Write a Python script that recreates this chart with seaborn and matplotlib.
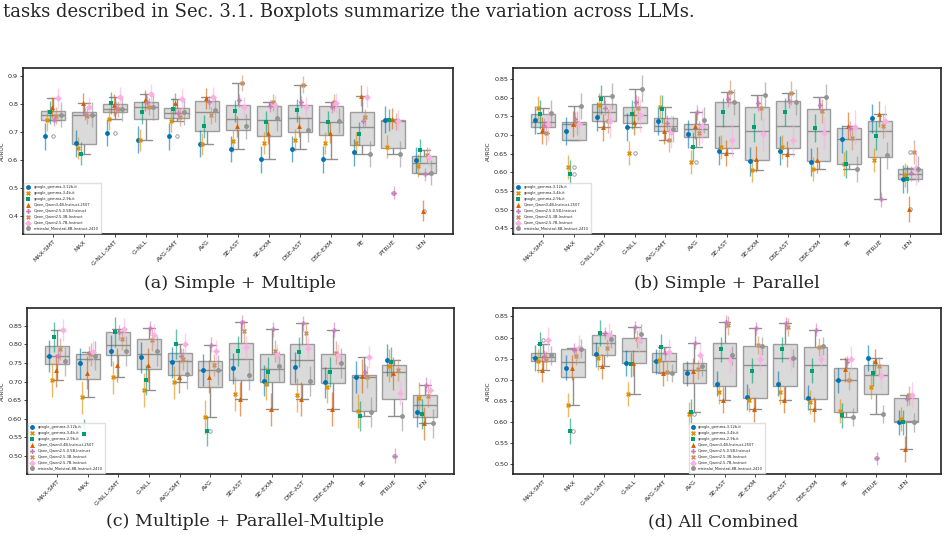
import numpy as np
import pandas as pd
import matplotlib
matplotlib.use("Agg")
import matplotlib.pyplot as plt
from matplotlib.colors import to_rgba
import seaborn as sns

# ─────────────────────────────
# Data (mean AUROC, rows = methods, columns = models)
# ─────────────────────────────
METHODS = ["MAX-SMT", "MAX", "G-NLL-SMT", "G-NLL", "AVG-SMT", "AVG", "SE-AST",
           "SE-EXM", "DSE-AST", "DSE-EXM", "PE", "PTRUE", "LEN"]
MODELS = ["google_gemma-3-12b-it", "google_gemma-3-4b-it", "google_gemma-2-9b-it",
          "Qwen_Qwen3-4B-Instruct-2507", "Qwen_Qwen2.5-0.5B-Instruct",
          "Qwen_Qwen2.5-3B-Instruct", "Qwen_Qwen2.5-7B-Instruct",
          "mistralai_Ministral-8B-Instruct-2410"]
MARKERS = ["o", "X", "s", "^", "P", "X", "D", "o"]

SIMPLE_MULTIPLE = [
    [0.686, 0.745, 0.771, 0.789, 0.743, 0.759, 0.821, 0.763],
    [0.661, 0.643, 0.624, 0.803, 0.766, 0.759, 0.790, 0.763],
    [0.699, 0.747, 0.804, 0.798, 0.786, 0.783, 0.826, 0.784],
    [0.673, 0.673, 0.771, 0.814, 0.807, 0.792, 0.837, 0.789],
    [0.686, 0.741, 0.782, 0.804, 0.769, 0.754, 0.819, 0.771],
    [0.659, 0.658, 0.721, 0.822, 0.807, 0.761, 0.826, 0.781],
    [0.640, 0.669, 0.777, 0.721, 0.814, 0.876, 0.792, 0.721],
    [0.604, 0.661, 0.735, 0.697, 0.795, 0.807, 0.798, 0.751],
    [0.640, 0.673, 0.778, 0.721, 0.808, 0.870, 0.792, 0.709],
    [0.604, 0.661, 0.735, 0.699, 0.790, 0.807, 0.804, 0.741],
    [0.629, 0.661, 0.695, 0.831, 0.741, 0.753, 0.828, 0.622],
    [0.745, 0.649, 0.745, 0.749, 0.484, 0.739, 0.742, 0.622],
    [0.601, 0.581, 0.635, 0.419, 0.549, 0.619, 0.613, 0.556],
]
SIMPLE_MULTIPLE_ERR = [0.048, 0.040, 0.040, 0.038, 0.022, 0.030, 0.036, 0.045]

SIMPLE_PARALLEL = [
    [0.740, 0.773, 0.755, 0.712, 0.726, 0.706, 0.728, 0.758],
    [0.711, 0.613, 0.595, 0.729, 0.742, 0.733, 0.729, 0.777],
    [0.749, 0.779, 0.795, 0.720, 0.773, 0.738, 0.738, 0.803],
    [0.721, 0.651, 0.755, 0.734, 0.787, 0.771, 0.752, 0.824],
    [0.738, 0.776, 0.769, 0.711, 0.733, 0.687, 0.709, 0.716],
    [0.702, 0.627, 0.669, 0.724, 0.760, 0.706, 0.724, 0.740],
    [0.658, 0.667, 0.760, 0.651, 0.796, 0.816, 0.687, 0.787],
    [0.629, 0.606, 0.720, 0.636, 0.785, 0.773, 0.703, 0.806],
    [0.658, 0.667, 0.761, 0.648, 0.792, 0.813, 0.687, 0.789],
    [0.627, 0.609, 0.718, 0.633, 0.780, 0.765, 0.704, 0.801],
    [0.689, 0.622, 0.622, 0.725, 0.718, 0.691, 0.722, 0.609],
    [0.744, 0.633, 0.698, 0.755, 0.528, 0.725, 0.736, 0.645],
    [0.582, 0.593, 0.582, 0.502, 0.597, 0.654, 0.611, 0.609],
]
SIMPLE_PARALLEL_ERR = [0.038, 0.032, 0.038, 0.035, 0.020, 0.032, 0.045, 0.035]

MULTIPLE_PARALLEL = [
    [0.769, 0.704, 0.819, 0.730, 0.770, 0.788, 0.839, 0.754],
    [0.749, 0.657, 0.560, 0.724, 0.776, 0.773, 0.779, 0.770],
    [0.783, 0.711, 0.833, 0.745, 0.833, 0.814, 0.842, 0.782],
    [0.765, 0.677, 0.704, 0.745, 0.844, 0.812, 0.826, 0.782],
    [0.752, 0.698, 0.801, 0.713, 0.770, 0.760, 0.801, 0.720],
    [0.731, 0.604, 0.567, 0.713, 0.799, 0.745, 0.781, 0.731],
    [0.736, 0.666, 0.783, 0.653, 0.860, 0.835, 0.792, 0.718],
    [0.702, 0.694, 0.727, 0.625, 0.841, 0.783, 0.772, 0.742],
    [0.738, 0.664, 0.779, 0.653, 0.857, 0.830, 0.790, 0.702],
    [0.698, 0.686, 0.725, 0.626, 0.839, 0.778, 0.772, 0.749],
    [0.712, 0.621, 0.607, 0.715, 0.727, 0.713, 0.767, 0.617],
    [0.758, 0.743, 0.752, 0.722, 0.500, 0.731, 0.668, 0.608],
    [0.619, 0.655, 0.612, 0.587, 0.691, 0.661, 0.677, 0.587],
]
MULTIPLE_PARALLEL_ERR = [0.042, 0.045, 0.040, 0.045, 0.020, 0.030, 0.030, 0.040]

ALL_COMBINED = [
    [0.752, 0.744, 0.784, 0.724, 0.756, 0.746, 0.795, 0.758],
    [0.729, 0.640, 0.579, 0.729, 0.771, 0.756, 0.775, 0.774],
    [0.760, 0.752, 0.811, 0.732, 0.811, 0.775, 0.805, 0.797],
    [0.740, 0.666, 0.737, 0.740, 0.825, 0.797, 0.795, 0.809],
    [0.744, 0.746, 0.778, 0.715, 0.763, 0.719, 0.767, 0.716],
    [0.715, 0.620, 0.624, 0.722, 0.788, 0.725, 0.759, 0.732],
    [0.691, 0.670, 0.772, 0.652, 0.838, 0.829, 0.746, 0.758],
    [0.659, 0.652, 0.722, 0.630, 0.822, 0.782, 0.750, 0.780],
    [0.691, 0.670, 0.772, 0.652, 0.834, 0.825, 0.750, 0.752],
    [0.658, 0.648, 0.722, 0.630, 0.819, 0.778, 0.750, 0.780],
    [0.699, 0.626, 0.616, 0.725, 0.741, 0.699, 0.750, 0.612],
    [0.752, 0.683, 0.716, 0.744, 0.514, 0.733, 0.708, 0.619],
    [0.599, 0.607, 0.599, 0.536, 0.654, 0.663, 0.665, 0.599],
]
ALL_COMBINED_ERR = [0.030, 0.028, 0.030, 0.030, 0.015, 0.022, 0.030, 0.022]

TOP_TEXT = "tasks described in Sec. 3.1. Boxplots summarize the variation across LLMs."
CAPTIONS = ["(a) Simple + Multiple", "(b) Simple + Parallel",
            "(c) Multiple + Parallel-Multiple", "(d) All Combined"]

# ─────────────────────────────
# Style
# ─────────────────────────────
sns.set_style("ticks")
plt.rcParams["font.family"] = ["DejaVu Sans"]
PALETTE = sns.color_palette("colorblind", 8)


def draw_panel(ax, means, errs, ylim, yticks, yfmt, xlim, legend_loc):
    means = np.array(means)
    df = pd.DataFrame(means, index=METHODS, columns=MODELS)
    df = df.reset_index().melt(id_vars="index", var_name="model", value_name="auroc")
    df = df.rename(columns={"index": "method"})

    sns.boxplot(data=df, x="method", y="auroc", order=METHODS, color="#d4d4d4",
                linecolor="#8f8f8f", linewidth=1.0, width=0.78, saturation=1,
                flierprops=dict(marker="o", markerfacecolor="none",
                                markeredgecolor="#8f8f8f", markersize=2.5,
                                markeredgewidth=0.6),
                ax=ax)
    for p in ax.patches:
        p.set_alpha(0.85)

    handles = []
    pos = np.arange(len(METHODS))
    for j, model in enumerate(MODELS):
        col = PALETTE[j]
        x = pos + (j - 3.5) * 0.0714
        h = ax.errorbar(x, means[:, j], yerr=errs[j], fmt=MARKERS[j], color=col,
                        ecolor=to_rgba(col, 0.6), ms=3.5, mew=0, elinewidth=1.0,
                        capsize=1.3, capthick=0.8, zorder=5, label=model)
        handles.append(h)

    ax.set_xlim(*xlim)
    ax.set_ylim(*ylim)
    ax.set_yticks(yticks)
    ax.set_yticklabels([yfmt.format(t) for t in yticks])
    ax.set_xlabel("")
    ax.set_ylabel("AUROC", fontsize=4, labelpad=2)
    ax.tick_params(axis="both", labelsize=4.6, length=2, width=0.6, pad=1.5)
    ax.set_xticks(pos)
    ax.set_xticklabels(METHODS, rotation=45, ha="right", rotation_mode="anchor",
                       fontsize=4.5)
    for s in ax.spines.values():
        s.set_visible(True)
        s.set_linewidth(1.2)
        s.set_color("#222222")

    ax.legend(handles, MODELS, loc=legend_loc, fontsize=2.6, frameon=True,
              handlelength=1.2, handletextpad=0.8, labelspacing=0.55,
              borderpad=0.6, borderaxespad=0.3, framealpha=0.9,
              edgecolor="#dddddd", fancybox=True)


fig = plt.figure(figsize=(9.47, 5.39), dpi=100)
W, H = 947.0, 539.0

panels = [
    (SIMPLE_MULTIPLE, SIMPLE_MULTIPLE_ERR, (23, 68, 430, 166), (0.336, 0.93),
     [0.4, 0.5, 0.6, 0.7, 0.8, 0.9], "{:.1f}", (-0.97, 12.95), "lower left"),
    (SIMPLE_PARALLEL, SIMPLE_PARALLEL_ERR, (513, 68, 428, 166), (0.435, 0.879),
     [0.45, 0.50, 0.55, 0.60, 0.65, 0.70, 0.75, 0.80, 0.85], "{:.2f}",
     (-0.98, 13.0), "lower left"),
    (MULTIPLE_PARALLEL, MULTIPLE_PARALLEL_ERR, (27, 308, 427, 166), (0.451, 0.898),
     [0.50, 0.55, 0.60, 0.65, 0.70, 0.75, 0.80, 0.85], "{:.2f}",
     (-0.98, 12.95), "lower left"),
    (ALL_COMBINED, ALL_COMBINED_ERR, (513, 308, 428, 166), (0.477, 0.870),
     [0.50, 0.55, 0.60, 0.65, 0.70, 0.75, 0.80, 0.85], "{:.2f}",
     (-0.99, 13.15), "lower center"),
]

for means, errs, (l, t, w, h), ylim, yticks, yfmt, xlim, loc in panels:
    ax = fig.add_axes([l / W, 1 - (t + h) / H, w / W, h / H])
    draw_panel(ax, means, errs, ylim, yticks, yfmt, xlim, loc)

# captions
serif = ["DejaVu Serif"]
fig.text(3 / W, 1 - 12 / H, TOP_TEXT, fontsize=13, family=serif, va="center", ha="left")
for cap, (cx, cy) in zip(CAPTIONS, [(240, 283), (727, 283), (245, 522), (723, 522)]):
    fig.text(cx / W, 1 - cy / H, cap, fontsize=12.6, family=serif, va="center", ha="center")

fig.savefig("out.png", dpi=100)
plt.close(fig)
